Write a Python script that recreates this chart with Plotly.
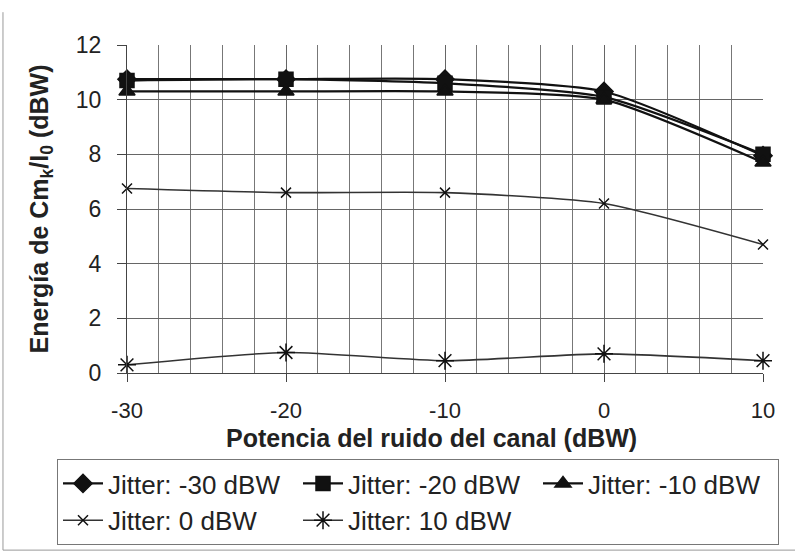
import plotly.graph_objects as go

noise = [-30, -20, -10, 0, 10]
jitter_m30 = [10.75, 10.75, 10.75, 10.3, 7.95]
jitter_m20 = [10.7, 10.75, 10.6, 10.1, 8.0]
jitter_m10 = [10.3, 10.3, 10.3, 10.0, 7.7]
jitter_0 = [6.75, 6.6, 6.6, 6.2, 4.7]
jitter_10 = [0.3, 0.75, 0.45, 0.7, 0.45]
names = ["Jitter: -30 dBW", "Jitter: -20 dBW", "Jitter: -10 dBW", "Jitter: 0 dBW", "Jitter: 10 dBW"]
x_tick_vals = [-30, -20, -10, 0, 10]
x_tick_text = ["-30", "-20", "-10", "0", "10"]
y_tick_vals = [0, 2, 4, 6, 8, 10, 12]
y_tick_text = ["0", "2", "4", "6", "8", "10", "12"]
x_title = "<b>Potencia del ruido del canal (dBW)</b>"
y_title = "<b>Energía de Cm<sub>k</sub>/I<sub>0</sub> (dBW)</b>"

FONT = "Liberation Sans, Arial, sans-serif"
series = [
    (jitter_m30, "diamond", 14, 2.2, "#111"),
    (jitter_m20, "square", 14, 2.2, "#111"),
    (jitter_m10, "triangle-up", 14, 2.2, "#111"),
    (jitter_0, "x-thin-open", 10, 1.6, "#333"),
    (jitter_10, "asterisk-open", 15, 1.6, "#333"),
]

fig = go.Figure()
for (vals, sym, size, lw, col), name in zip(series, names):
    fig.add_trace(go.Scatter(
        x=noise, y=vals, name=name, mode="lines+markers",
        line=dict(color=col, width=lw, shape="spline", smoothing=0.6),
        marker=dict(symbol=sym, size=size, color="#111",
                    line=dict(color="#111", width=1.5)),
        cliponaxis=False,
    ))

fig.update_layout(
    width=795, height=552,
    margin=dict(l=127, r=32, t=45, b=179, autoexpand=False),
    paper_bgcolor="white", plot_bgcolor="white",
    font=dict(family=FONT, size=23, color="#222"),
    showlegend=True,
    legend=dict(
        orientation="h", xref="paper", yref="paper",
        x=(57 - 127) / 636, y=(373 - 459) / 328, xanchor="left", yanchor="top",
        bordercolor="#777", borderwidth=1, bgcolor="white",
        font=dict(family=FONT, size=26, color="#222"),
        entrywidth=185, entrywidthmode="pixels",
        itemwidth=40, tracegroupgap=0,
    ),
    xaxis=dict(
        range=[-30, 10], tickvals=x_tick_vals, ticktext=x_tick_text,
        showgrid=True, gridcolor="#666", gridwidth=1,
        minor=dict(dtick=2, tick0=-30, showgrid=True, gridcolor="#777", gridwidth=1),
        ticks="outside", ticklen=8, tickcolor="#444",
        ticklabelstandoff=10,
        showline=True, linecolor="#444",
        zeroline=False,
        tickfont=dict(size=22),
        automargin=False,
    ),
    yaxis=dict(
        range=[0, 12], tickvals=y_tick_vals, ticktext=y_tick_text,
        showgrid=True, gridcolor="#666", gridwidth=1,
        ticks="outside", ticklen=9, tickcolor="#444",
        ticklabelstandoff=11,
        showline=True, linecolor="#444",
        zeroline=False,
        tickfont=dict(size=23),
        automargin=False,
        title=dict(text=y_title, font=dict(size=25), standoff=20),
    ),
)

fig.add_annotation(text=x_title, xref="paper", yref="paper",
                   x=0.478, y=(373 - 438) / 328, xanchor="center", yanchor="middle",
                   showarrow=False, font=dict(size=25, color="#222"))

fig.add_shape(type="line", xref="paper", yref="paper",
              x0=-0.195, x1=-0.195, y0=-0.54, y1=1.1,
              line=dict(color="#999", width=1))
fig.add_shape(type="line", xref="paper", yref="paper",
              x0=-0.195, x1=1.06, y0=-0.54, y1=-0.54,
              line=dict(color="#999", width=1))

fig.write_html("out.html")
